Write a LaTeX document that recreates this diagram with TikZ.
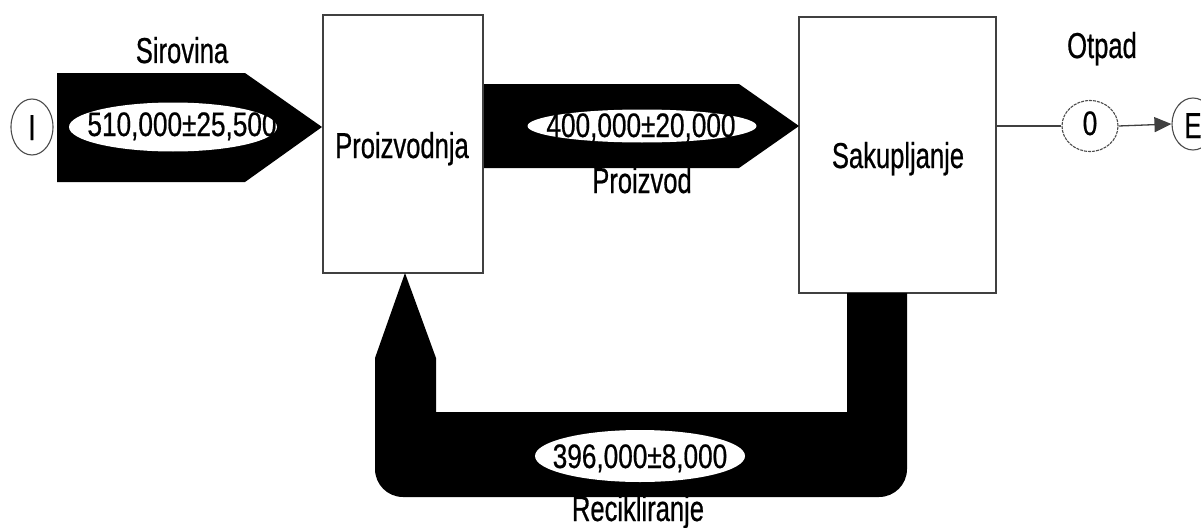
\documentclass[tikz,border=0pt]{standalone}
\usepackage{fontspec}
\setmainfont{Liberation Sans}
\newfontfamily\wordfont[FakeStretch=0.71,FakeBold=0.6]{Liberation Sans}
\newfontfamily\numfont[FakeStretch=0.77,FakeBold=0.6]{Liberation Sans}
\usetikzlibrary{arrows.meta,shapes.geometric}
\tikzset{
  box/.style={draw=black!75, line width=1.4pt, fill=white, inner sep=0pt},
  word/.style={font=\wordfont\fontsize{36}{40}\selectfont, anchor=base, inner sep=0pt},
  num/.style={font=\numfont\fontsize{34}{38}\selectfont, anchor=base, inner sep=0pt},
  oval/.style={ellipse, fill=white, inner sep=0pt},
  term/.style={ellipse, draw=black!70, line width=1.1pt, fill=white, inner sep=0pt},
  flow/.style={fill=black},
  link/.style={draw=black!75, line width=1.3pt},
}
\begin{document}
\begin{tikzpicture}[x=1pt,y=-1pt]
\useasboundingbox (0,0) rectangle (1201,527);
% process boxes
\node[box, minimum width=160pt, minimum height=258pt] (prod) at (403,144) {};
\node[box, minimum width=197pt, minimum height=276pt] (sak) at (897.5,155) {};
% flows
\fill[flow] (57,73) -- (245,73) -- (322,127) -- (245,182) -- (57,182) -- cycle;
\fill[flow] (484,84) -- (739,84) -- (799,126) -- (739,168) -- (484,168) -- cycle;
\fill[flow] (405,273) -- (436,358) -- (436,412) -- (847,412) -- (847,293) -- (907,293)
  -- (907,469) .. controls (907,484.5) and (894.5,497) .. (879,497)
  -- (403,497) .. controls (387.5,497) and (375,484.5) .. (375,469)
  -- (375,358) -- cycle;
% value ovals
\node[oval, minimum width=208pt, minimum height=49pt] (e1) at (173,127) {};
\node[num] (t1) at (182,136) {510,000±25,500};
\node[oval, minimum width=229pt, minimum height=33pt] (e2) at (642,126) {};
\node[num] (t2) at (641,137) {400,000±20,000};
\node[oval, minimum width=210pt, minimum height=52pt] (e3) at (640,456) {};
\node[num] (t3) at (640,468) {396,000±8,000};
% labels
\node[word] (l1) at (182,63) {Sirovina};
\node[word] (l2) at (642,193) {Proizvod};
\node[word] (l3) at (638,521) {Recikliranje};
\node[word] (l4) at (1102,58) {Otpad};
\node[word] (lp) at (402,158) {Proizvodnja};
\node[word] (ls) at (898,168) {Sakupljanje};
% terminals
\node[term, minimum width=42pt, minimum height=56pt] (I) at (32,127) {};
\node[word] (tI) at (32,140) {I};
\node[term, dash pattern=on 3pt off 1pt, minimum width=56pt, minimum height=51pt] (zero) at (1090,126) {};
\node[num] (t0) at (1090,135) {0};
\node[term, minimum width=42pt, minimum height=52pt] (E) at (1193,124) {};
\node[word] (tE) at (1193,138) {E};
\draw[link] (sak.east |- zero.west) -- (zero.west);
\draw[link, -{Triangle[length=17pt,width=15pt]}] (zero.east) -- (E.west);
\end{tikzpicture}
\end{document}
